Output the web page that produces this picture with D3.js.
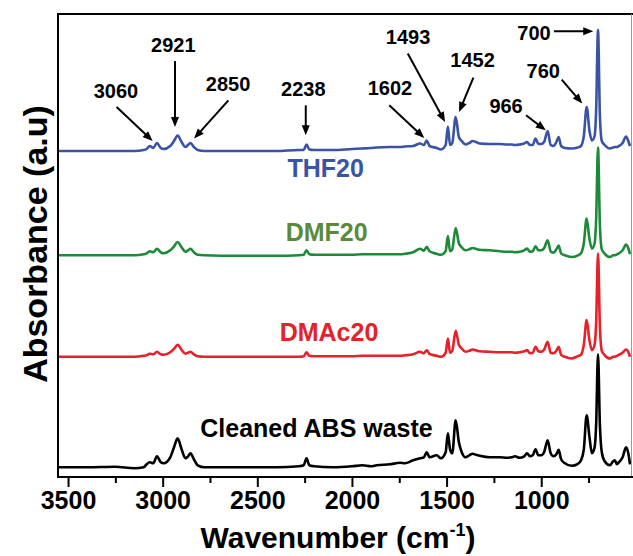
<!DOCTYPE html>
<html>
<head>
<meta charset="utf-8">
<script src="https://cdn.jsdelivr.net/npm/d3@7/dist/d3.min.js"></script>
<style>
  html, body { margin: 0; padding: 0; background: #fff; }
  svg { display: block; }
  text { font-family: "Liberation Sans", Arial, Helvetica, sans-serif; font-weight: bold; }
</style>
</head>
<body>
<svg id="chart" width="633" height="556"></svg>
<script>
// ---- data ----
const wavenumber = [3553,3400,3250,3150,3100,3085,3068,3050,3030,3010,2995,2960,2940,2921,2900,2880,2866,2853,2835,2815,2780,2600,2400,2280,2255,2240,2225,2200,2100,2000,1945,1900,1870,1800,1746,1720,1677,1640,1620,1605,1590,1552,1530,1505,1493,1482,1470,1452,1435,1420,1400,1380,1362,1345,1325,1272,1219,1180,1155,1140,1114,1090,1075,1060,1045,1030,1015,1000,985,966,950,935,920,908,895,875,840,806,790,775,760,745,732,718,710,700,690,680,665,637,620,611,600,590,570,552,540,531];

const thf20 = [0,0,0,0,0.01,0.02,0.05,0.03,0.08,0.03,0.02,0.05,0.1,0.155,0.09,0.04,0.06,0.08,0.04,0.01,0,0,0,0.01,0.01,0.065,0.015,0.01,0.01,0.02,0.025,0.03,0.035,0.04,0.04,0.045,0.05,0.075,0.06,0.105,0.05,0.03,0.015,0.06,0.245,0.06,0.08,0.34,0.14,0.1,0.065,0.08,0.1,0.09,0.075,0.07,0.07,0.065,0.065,0.06,0.065,0.075,0.09,0.06,0.06,0.125,0.07,0.07,0.09,0.2,0.06,0.05,0.09,0.14,0.05,0.03,0.025,0.035,0.05,0.15,0.44,0.2,0.105,0.15,0.4,1.21,0.35,0.1,0.06,0.025,0.035,0.04,0.04,0.05,0.08,0.145,0.1,0.05];

const dmf20 = [0,0,0,0,0.01,0.02,0.04,0.03,0.065,0.03,0.02,0.05,0.09,0.133,0.08,0.035,0.05,0.065,0.03,0.005,0,-0.005,-0.005,0,0.005,0.05,0.01,0.005,0.005,0.005,0.01,0.01,0.01,0.01,0.01,0.015,0.03,0.065,0.045,0.085,0.04,0.015,0.005,0.04,0.193,0.04,0.06,0.273,0.12,0.08,0.05,0.06,0.073,0.065,0.055,0.05,0.04,0.035,0.035,0.03,0.035,0.05,0.067,0.035,0.04,0.09,0.05,0.05,0.07,0.15,0.04,0.025,0.06,0.097,0.02,0,-0.017,0,0.02,0.12,0.367,0.16,0.067,0.12,0.35,1.077,0.3,0.06,0.017,-0.017,0,0,0.01,0.02,0.05,0.107,0.07,0.01];

const dmac20 = [0,0,0,0,0.01,0.015,0.03,0.025,0.05,0.025,0.02,0.045,0.08,0.12,0.07,0.03,0.04,0.05,0.025,0.005,0,0,0,0,0.005,0.045,0.01,0.005,0.005,0.005,0.01,0.01,0.01,0.01,0.01,0.015,0.025,0.05,0.035,0.065,0.03,0.01,0,0.04,0.183,0.04,0.06,0.26,0.12,0.083,0.05,0.06,0.073,0.065,0.055,0.05,0.045,0.045,0.045,0.04,0.045,0.055,0.067,0.035,0.04,0.1,0.055,0.05,0.07,0.15,0.04,0.035,0.06,0.1,0.02,0,-0.017,0.007,0.02,0.12,0.367,0.16,0.067,0.12,0.33,1.033,0.3,0.06,0.017,-0.017,0,0,0.01,0.02,0.04,0.073,0.05,0];

const cleanedAbs = [0,0,0.005,-0.01,0,0.03,0.05,0.04,0.11,0.05,0.04,0.1,0.2,0.29,0.18,0.09,0.11,0.14,0.08,0.02,0,0,0,0.01,0.02,0.09,0.02,0.01,0,0.01,0.02,0.01,0.02,0.03,0.045,0.04,0.07,0.09,0.1,0.15,0.1,0.12,0.09,0.15,0.34,0.18,0.14,0.47,0.25,0.15,0.1,0.12,0.135,0.125,0.115,0.1,0.1,0.095,0.1,0.11,0.095,0.11,0.14,0.11,0.12,0.18,0.12,0.12,0.15,0.27,0.14,0.11,0.13,0.175,0.08,0.04,0.015,0.035,0.07,0.18,0.52,0.3,0.14,0.2,0.42,1.13,0.42,0.15,0.06,0.02,0.06,0.07,0.03,0.05,0.1,0.2,0.14,0.03];

const seriesNames = ["THF20", "DMF20", "DMAc20", "Cleaned ABS waste"];
const seriesValues = [thf20, dmf20, dmac20, cleanedAbs];
const seriesOffsets = [3.26, 2.217, 1.202, 0.097];

const majorTicks = [3500, 3000, 2500, 2000, 1500, 1000];
const minorTicks = [3250, 2750, 2250, 1750, 1250, 750];

const peakLabels = ["3060", "2921", "2850", "2238", "1602", "1493", "1452", "966", "760", "700"];
// arrow tips in data units (wavenumber, absorbance)
const peakTipWave = [3053, 2935, 2834, 2244, 1618, 1508, 1434, 976, 783, 725];
const peakTipAbs  = [3.36, 3.50, 3.384, 3.417, 3.39, 3.55, 3.65, 3.467, 3.734, 4.457];

// ---- layout / style ----
const lineColors = ["#3a53a4", "#1d8a3a", "#e8202a", "#000000"];
const labelColors = ["#3a53a4", "#5a8a3a", "#e32229", "#000000"];
const labelPos = [[325.7, 176.7], [326.7, 240.7], [329, 340.7], [316.5, 436.7]];
const tailOff = [[-36, -34], [0, -66], [34.3, -38.3], [0, -30], [-35, -32.7], [-37.3, -68.4], [14.3, -34.4], [-19.7, -15], [-20.6, -24], [-39.3, 0]];
const textOff = [[-36.7, -43.4], [-1.7, -75], [34, -47.6], [-2.4, -39], [-34.3, -42.7], [-37, -78.4], [13.5, -45], [-39.7, -17.3], [-39, -26], [-59.3, 8.3]];

const mLeft = 58, mRight = 631, mTop = 14, mBottom = 477;

const svg = d3.select("#chart");
const x = d3.scaleLinear().domain([3553, 531]).range([mLeft, mRight - 1]);
const y = d3.scaleLinear().domain([0, 4.63]).range([mBottom, mTop]);

svg.append("defs").append("clipPath").attr("id", "clip")
  .append("rect").attr("x", mLeft).attr("y", mTop).attr("width", mRight - mLeft).attr("height", mBottom - mTop);

// spectra
const line = d3.line().curve(d3.curveMonotoneX);
const g = svg.append("g").attr("clip-path", "url(#clip)");
seriesValues.forEach((vals, i) => {
  const pts = wavenumber.map((w, k) => [x(w), y(vals[k] + seriesOffsets[i])]);
  g.append("path")
    .attr("d", line(pts))
    .attr("fill", "none")
    .attr("stroke", lineColors[i])
    .attr("stroke-width", 2.6)
    .attr("stroke-linejoin", "round");
});

// frame
svg.append("line").attr("x1", mLeft).attr("x2", 633).attr("y1", mTop).attr("y2", mTop)
  .attr("stroke", "#000").attr("stroke-width", 2);
svg.append("line").attr("x1", mLeft).attr("x2", mLeft).attr("y1", mTop - 1).attr("y2", mBottom + 1)
  .attr("stroke", "#000").attr("stroke-width", 2);
svg.append("line").attr("x1", mRight + 0.5).attr("x2", mRight + 0.5).attr("y1", mTop).attr("y2", mBottom)
  .attr("stroke", "#9a9a9a").attr("stroke-width", 1);

// bottom axis
const axisMajor = d3.axisBottom(x).tickValues(majorTicks).tickSize(10).tickPadding(4).tickFormat(d3.format("d"));
const ax = svg.append("g").attr("transform", `translate(0,${mBottom})`).call(axisMajor);
ax.select(".domain").attr("d", `M${mLeft},0H633`).attr("stroke-width", 2);
ax.selectAll(".tick line").attr("stroke-width", 2);
ax.selectAll(".tick text").attr("font-size", 25).attr("font-family", "Liberation Sans, Arial, sans-serif")
  .attr("font-weight", "bold").attr("fill", "#000").attr("dy", "0.71em");
const axisMinor = d3.axisBottom(x).tickValues(minorTicks).tickSize(6).tickFormat("");
const axm = svg.append("g").attr("transform", `translate(0,${mBottom})`).call(axisMinor);
axm.select(".domain").remove();
axm.selectAll(".tick line").attr("stroke-width", 2);

// axis titles
const xt = svg.append("text").attr("x", 338).attr("y", 548).attr("text-anchor", "middle")
  .attr("font-size", 30).attr("fill", "#000");
xt.append("tspan").text("Wavenumber (cm");
xt.append("tspan").attr("font-size", 18).attr("dy", -12).text("-1");
xt.append("tspan").attr("dy", 12).text(")");

svg.append("text").attr("transform", "translate(47,244) rotate(-90)").attr("text-anchor", "middle")
  .attr("font-size", 34).attr("fill", "#000").text("Absorbance (a.u)");

// series labels
seriesNames.forEach((n, i) => {
  svg.append("text").attr("x", labelPos[i][0]).attr("y", labelPos[i][1]).attr("text-anchor", "middle")
    .attr("font-size", 25).attr("fill", labelColors[i]).text(n);
});

// peak annotations
peakLabels.forEach((lab, i) => {
  const tx = x(peakTipWave[i]), ty = y(peakTipAbs[i]);
  const sx = tx + tailOff[i][0], sy = ty + tailOff[i][1];
  const dx = tx - sx, dy = ty - sy, len = Math.hypot(dx, dy);
  const ux = dx / len, uy = dy / len;
  const L = 10, W = 4;
  const bx = tx - ux * L, by = ty - uy * L;
  svg.append("line").attr("x1", sx).attr("y1", sy).attr("x2", bx + ux * 2).attr("y2", by + uy * 2)
    .attr("stroke", "#000").attr("stroke-width", 2);
  svg.append("path")
    .attr("d", `M${tx},${ty}L${bx - uy * W},${by + ux * W}L${bx + uy * W},${by - ux * W}Z`)
    .attr("fill", "#000");
  svg.append("text").attr("x", tx + textOff[i][0]).attr("y", ty + textOff[i][1])
    .attr("text-anchor", "middle").attr("font-size", 20).attr("fill", "#000").text(lab);
});
</script>
</body>
</html>
